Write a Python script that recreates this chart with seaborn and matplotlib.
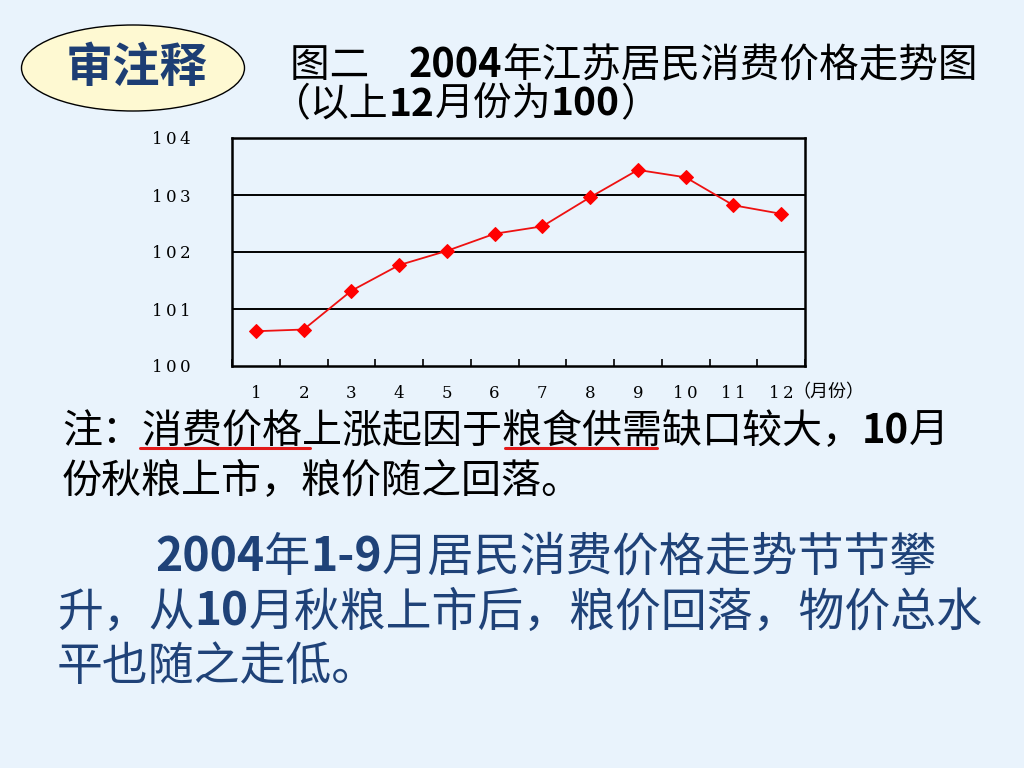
import matplotlib
matplotlib.use("Agg")
import matplotlib.pyplot as plt
import seaborn as sns
import pandas as pd
from matplotlib.patches import Ellipse
from matplotlib.lines import Line2D

# ---- data ----
months = ["1", "2", "3", "4", "5", "6", "7", "8", "9", "10", "11", "12"]
cpi = [100.61, 100.64, 101.32, 101.77, 102.02, 102.32, 102.45, 102.96, 103.44, 103.31, 102.82, 102.67]
y_ticks = [100, 101, 102, 103, 104]
month_unit = "（月份）"
badge = "审注释"
title_line1 = [("图二　", "normal"), ("2004", "bold"), ("年江苏居民消费价格走势图", "normal")]
title_line2 = [("（以上", "normal"), ("12", "bold"), ("月份为", "normal"), ("100", "bold"), ("）", "normal")]
note_line1 = [("注：消费价格上涨起因于粮食供需缺口较大，", "normal"), ("10", "bold"), ("月", "normal")]
note_line2 = [("份秋粮上市，粮价随之回落。", "normal")]
para_line1 = [("2004", "bold"), ("年", "normal"), ("1-9", "bold"), ("月居民消费价格走势节节攀", "normal")]
para_line2 = [("升，从", "normal"), ("10", "bold"), ("月秋粮上市后，粮价回落，物价总水", "normal")]
para_line3 = [("平也随之走低。", "normal")]

BG = "#E9F3FC"
W, H = 1024, 768

sns.set_theme(style="white")
plt.rcParams["font.family"] = ["Noto Sans CJK SC", "DejaVu Sans"]

fig = plt.figure(figsize=(W / 100, H / 100), dpi=100, facecolor=BG)
renderer = fig.canvas.get_renderer()


def fx(x):
    return x / W


def fy(y):
    return 1 - y / H


def spaced(s):
    return "\u2009".join(s)


# ---- chart ----
ax = fig.add_axes([fx(232), fy(366), (805 - 232) / W, (366 - 138) / H])
ax.set_facecolor(BG)
df = pd.DataFrame({"idx": list(range(len(months))), "cpi": cpi})
sns.lineplot(data=df, x="idx", y="cpi", ax=ax, color="#EE1111", linewidth=1.3,
             marker="D", markersize=7, markerfacecolor="#FF0000", markeredgecolor="#FF0000")
ax.set_xlim(-0.5, len(months) - 0.5)
ax.set_ylim(100, 104)
ax.set_yticks(y_ticks)
ax.set_yticklabels([spaced(str(v)) for v in y_ticks], family="DejaVu Serif", fontsize=12, color="black")
ax.set_xticks(range(len(months)))
ax.set_xticklabels([spaced(m) for m in months], family="DejaVu Serif", fontsize=12, color="black")
ax.set_xticks([i - 0.5 for i in range(len(months) + 1)], minor=True)
ax.tick_params(axis="x", which="major", length=0, pad=14)
ax.tick_params(axis="x", which="minor", direction="in", length=5, width=1.2, color="black", bottom=True)
ax.tick_params(axis="y", which="major", length=0, pad=30)
ax.set_xlabel("")
ax.set_ylabel("")
for y in y_ticks[1:-1]:
    ax.axhline(y, color="black", linewidth=1.4, zorder=0)
for s in ax.spines.values():
    s.set_color("black")
    s.set_linewidth(1.8)
fig.text(fx(792), fy(392), month_unit, fontsize=13, va="center", ha="left", color="black")

# ---- badge ----
ell = Ellipse((fx(133), fy(68)), 223 / W, 86 / H, transform=fig.transFigure,
              facecolor="#FEF9D2", edgecolor="black", linewidth=1.0)
fig.add_artist(ell)
fig.text(fx(137), fy(68), badge, fontsize=34, color="#1D3E74", ha="center", va="center",
         fontweight="bold")


# ---- rich text helper ----
def rich(x_px, y_px, segments, size, color):
    x = x_px
    for s, w in segments:
        t = fig.text(fx(x), fy(y_px), s, fontsize=size, fontweight=w, color=color,
                     va="baseline", ha="left")
        bb = t.get_window_extent(renderer)
        x = bb.x1


rich(290, 77, title_line1, 28.5, "black")
rich(272, 116, title_line2, 28, "black")
rich(62, 443, note_line1, 28.8, "black")
rich(62, 493, note_line2, 28.8, "black")
rich(155, 571, para_line1, 33.3, "#1F4278")
rich(57, 626, para_line2, 33, "#1F4278")
rich(57, 680, para_line3, 33, "#1F4278")

# underlines
for x0, x1 in [(140, 310), (505, 657)]:
    fig.add_artist(Line2D([fx(x0), fx(x1)], [fy(448), fy(448)], transform=fig.transFigure,
                          color="#E21B1B", linewidth=2.2))

fig.savefig("out.png", dpi=100, facecolor=BG)
